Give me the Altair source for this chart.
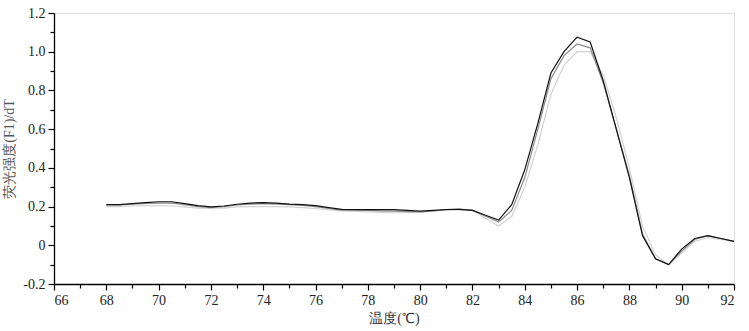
import altair as alt
import pandas as pd

temps = [68 + 0.5 * i for i in range(49)]

black = [0.21, 0.21, 0.215, 0.22, 0.225, 0.225, 0.215, 0.205, 0.198, 0.203, 0.212, 0.218,
         0.22, 0.218, 0.213, 0.21, 0.205, 0.195, 0.186, 0.185, 0.184, 0.184, 0.184, 0.18,
         0.176, 0.18, 0.185, 0.186, 0.18, 0.155, 0.13, 0.21, 0.39, 0.63, 0.89, 1.0,
         1.075, 1.05, 0.85, 0.6, 0.35, 0.05, -0.07, -0.1, -0.02, 0.035, 0.05, 0.035, 0.02]

grey = [0.208, 0.208, 0.212, 0.216, 0.218, 0.218, 0.21, 0.2, 0.195, 0.2, 0.208, 0.213,
        0.215, 0.213, 0.21, 0.206, 0.2, 0.19, 0.182, 0.18, 0.18, 0.178, 0.176, 0.174,
        0.172, 0.177, 0.183, 0.186, 0.182, 0.15, 0.12, 0.18, 0.35, 0.6, 0.86, 0.98,
        1.04, 1.02, 0.84, 0.6, 0.36, 0.06, -0.07, -0.1, -0.03, 0.03, 0.05, 0.035, 0.02]

light = [0.2, 0.2, 0.203, 0.205, 0.205, 0.203, 0.198, 0.192, 0.19, 0.192, 0.198, 0.2,
         0.2, 0.2, 0.198, 0.195, 0.19, 0.183, 0.178, 0.175, 0.173, 0.17, 0.168, 0.168,
         0.17, 0.176, 0.185, 0.19, 0.18, 0.14, 0.1, 0.15, 0.3, 0.52, 0.78, 0.93,
         1.0, 1.0, 0.88, 0.66, 0.4, 0.1, -0.05, -0.1, -0.04, 0.02, 0.04, 0.03, 0.02]

series_names = ["c", "b", "a"]
series_vals = [light, grey, black]
series_colors = ["#d2d2d2", "#8a8a8a", "#111111"]

rows = []
for name, vals in zip(series_names, series_vals):
    for t, v in zip(temps, vals):
        rows.append({"T": t, "v": v, "s": name})
df = pd.DataFrame(rows)

x_ticks = list(range(66, 93))
y_ticks = [round(-0.2 + 0.1 * i, 1) for i in range(15)]

x_axis = alt.Axis(
    values=x_ticks,
    labelExpr="datum.value % 2 == 0 ? datum.label : ''",
    tickSize={"condition": {"test": "datum.value % 2 == 0", "value": 6}, "value": 4},
    title="温度(℃)", titlePadding=4,
)
y_axis = alt.Axis(
    values=y_ticks,
    labelExpr="abs(round(datum.value*10)) % 2 == 0 ? (abs(datum.value) < 0.001 ? '0' : replace(format(datum.value, '.1f'), '\u2212', '-')) : ''",
    tickSize={"condition": {"test": "abs(round(datum.value*10)) % 2 == 0", "value": 6}, "value": 4},
    title="荧光强度(F1)/dT", titlePadding=6, titleColor="#555",
)

chart = alt.Chart(df).mark_line(strokeWidth=1.2).encode(
    x=alt.X("T:Q", scale=alt.Scale(domain=[66, 92], nice=False, zero=False), axis=x_axis),
    y=alt.Y("v:Q", scale=alt.Scale(domain=[-0.2, 1.2], nice=False), axis=y_axis),
    color=alt.Color("s:N", scale=alt.Scale(domain=series_names, range=series_colors), legend=None),
    order=alt.Order("s:N", sort="descending"),
).properties(
    width=680, height=271,
    autosize=alt.AutoSizeParams(type="none"),
    padding={"left": 54, "top": 13, "right": 15, "bottom": 47},
).configure_view(stroke=None).configure(
    background="white", font="Liberation Serif"
).configure_axis(
    labelFont="Liberation Serif", labelFontSize=14, labelColor="#222", labelPadding=3,
    titleFont="Liberation Serif", titleFontSize=14, titleFontWeight="normal", titleColor="#333",
    tickColor="#000", domainColor="#000", tickWidth=1.2, domainWidth=1.3, grid=False,
)

chart.save("out.html", embed_options={"renderer": "svg", "actions": False})
